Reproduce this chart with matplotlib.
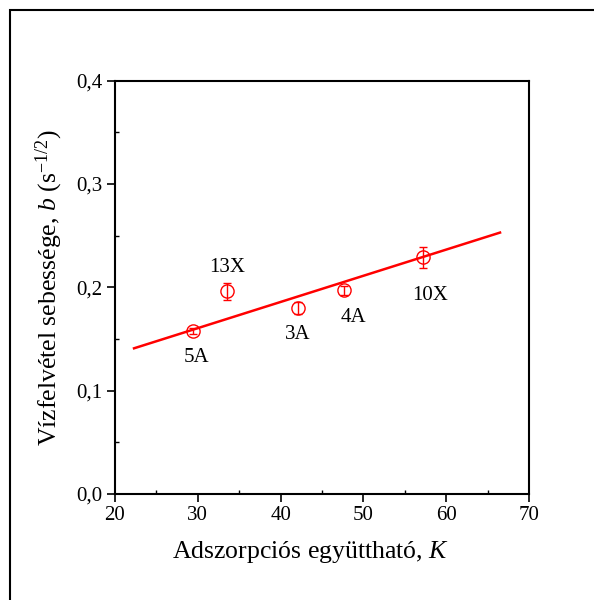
import matplotlib
matplotlib.use("Agg")
import matplotlib.pyplot as plt
from matplotlib.ticker import FuncFormatter, MultipleLocator
from matplotlib.patches import Rectangle

plt.rcParams['font.family'] = ['Liberation Serif', 'DejaVu Serif']
plt.rcParams['mathtext.fontset'] = 'custom'
plt.rcParams['mathtext.rm'] = 'Liberation Serif'
plt.rcParams['mathtext.it'] = 'Liberation Serif:italic'

# Data
labels = ["5A", "13X", "3A", "4A", "10X"]
K = [29.4, 33.5, 42.1, 47.6, 57.2]
b = [0.158, 0.196, 0.180, 0.197, 0.229]
b_err = [0.003, 0.008, 0.006, 0.004, 0.010]
fit_x = [22.3, 66.5]
fit_y = [0.141, 0.253]
label_offsets = [(0.47, -0.0256), (0.09, 0.0228), (-0.05, -0.026), (1.2, -0.0266), (0.8, -0.0368)]

fig = plt.figure(figsize=(5.94, 6.0), dpi=100)
ax = fig.add_axes([0.1936, 0.1767, 0.8906 - 0.1936, 0.8655 - 0.1767])

ax.plot(fit_x, fit_y, color='red', lw=1.8)
ax.errorbar(K, b, yerr=b_err, fmt='o', mfc='none', mec='red', ecolor='red',
            color='red', ms=9.5, mew=1.0, elinewidth=1.0, capsize=2.7, capthick=1.0)
for xi, yi, lab, (dx, dy) in zip(K, b, labels, label_offsets):
    ax.text(xi + dx, yi + dy, lab, ha='center', va='center', fontsize=15)

ax.set_xlim(20, 70)
ax.set_ylim(0, 0.4)
ax.xaxis.set_major_locator(MultipleLocator(10))
ax.xaxis.set_minor_locator(MultipleLocator(5))
ax.yaxis.set_major_locator(MultipleLocator(0.1))
ax.yaxis.set_minor_locator(MultipleLocator(0.05))
ax.yaxis.set_major_formatter(FuncFormatter(lambda v, p: f"{v:.1f}".replace('.', ',')))
ax.tick_params(which='major', direction='out', length=6, width=1.2, labelsize=15,
               pad=3, top=False, right=False)
ax.tick_params(which='minor', direction='in', length=3, width=1.0, top=False, right=False)
for s in ax.spines.values():
    s.set_linewidth(1.5)

ax.set_xlabel("Adszorpciós együttható, $K$", fontsize=18.5)
ax.xaxis.set_label_coords(0.472, -0.108)
ax.set_ylabel("Vízfelvétel sebessége, $b$ (s$^{-1/2}$)", fontsize=18.5, labelpad=8)

fig.patches.append(Rectangle((10 / 594, -0.1), 1.2, 1.1 - 10 / 600, transform=fig.transFigure,
                             fill=False, edgecolor='black', lw=1.5))

fig.savefig("out.png", dpi=100)
